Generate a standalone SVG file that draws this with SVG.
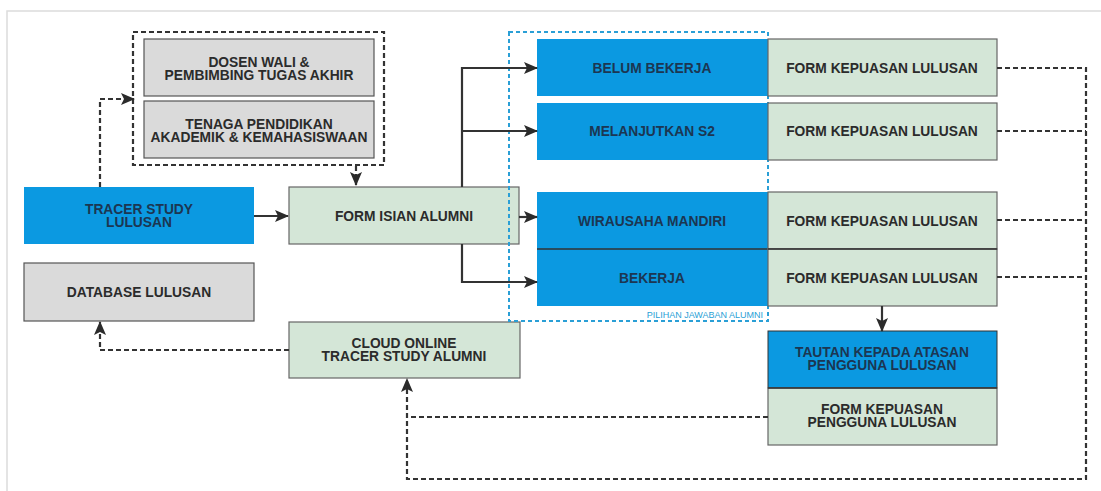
<svg xmlns="http://www.w3.org/2000/svg" width="1101" height="491" viewBox="0 0 1101 491">
  <style>
    .t { font-family: "Liberation Sans", Arial, sans-serif; font-weight: bold; font-size: 13.8px; text-anchor: middle; fill: #2b2b2b; }
    .tb { fill: #1c3652; }
    .gray { fill: #dadada; stroke: #555; stroke-width: 1.2; }
    .green { fill: #d4e6d7; stroke: #666; stroke-width: 1.2; }
    .blue { fill: #0b99e1; }
    .sep { stroke: #333; stroke-width: 1.5; }
    .solid { fill: none; stroke: #333; stroke-width: 2.2; }
    .dash { fill: none; stroke: #333; stroke-width: 2.2; stroke-dasharray: 5 3; }
  </style>
  <defs>
    <marker id="arrow" markerUnits="userSpaceOnUse" markerWidth="14" markerHeight="12" refX="13" refY="6" orient="auto">
      <path d="M0,0 L14,6 L0,12 L3,6 Z" fill="#2b2b2b"/>
    </marker>
  </defs>

  <!-- page frame -->
  <path d="M7,491 V11 H1101" fill="none" stroke="#dcdcdc" stroke-width="1.5"/>

  <!-- staff group (dashed container) -->
  <g id="staff-group">
    <rect x="133" y="32" width="251" height="133" class="dash"/>
  </g>
  <g id="dosen-wali">
    <rect x="144" y="39" width="230" height="57" class="gray"/>
    <text class="t" x="259" y="67">DOSEN WALI &amp;</text>
    <text class="t" x="259" y="80">PEMBIMBING TUGAS AKHIR</text>
  </g>
  <g id="tenaga-pendidikan">
    <rect x="144" y="101" width="230" height="57" class="gray"/>
    <text class="t" x="259" y="129">TENAGA PENDIDIKAN</text>
    <text class="t" x="259" y="142">AKADEMIK &amp; KEMAHASISWAAN</text>
  </g>

  <g id="tracer-study">
    <rect x="24" y="187" width="230" height="57" class="blue"/>
    <text class="t tb" x="139" y="214">TRACER STUDY</text>
    <text class="t tb" x="139" y="227">LULUSAN</text>
  </g>
  <g id="database-lulusan">
    <rect x="24" y="263" width="230" height="58" class="gray"/>
    <text class="t" x="139" y="297">DATABASE LULUSAN</text>
  </g>
  <g id="form-isian">
    <rect x="289" y="187" width="230" height="57" class="green"/>
    <text class="t" x="404" y="221">FORM ISIAN ALUMNI</text>
  </g>
  <g id="cloud-online">
    <rect x="289" y="322" width="231" height="56" class="green"/>
    <text class="t" x="404" y="348">CLOUD ONLINE</text>
    <text class="t" x="404" y="361">TRACER STUDY ALUMNI</text>
  </g>

  <!-- answer options (dashed blue container) -->
  <g id="pilihan-jawaban">
    <rect x="509" y="32" width="259" height="289" fill="none" stroke="#2a9fd6" stroke-width="2" stroke-dasharray="4 3"/>
    <text x="763" y="318" font-family="'Liberation Sans', Arial, sans-serif" font-size="9" fill="#2a9fd6" text-anchor="end">PILIHAN JAWABAN ALUMNI</text>
  </g>
  <g id="belum-bekerja">
    <rect x="537" y="39" width="231" height="57" class="blue"/>
    <text class="t tb" x="652" y="73">BELUM BEKERJA</text>
  </g>
  <g id="melanjutkan-s2">
    <rect x="537" y="103" width="231" height="57" class="blue"/>
    <text class="t tb" x="652" y="136">MELANJUTKAN S2</text>
  </g>
  <g id="wirausaha">
    <rect x="537" y="192" width="231" height="57" class="blue"/>
    <text class="t tb" x="652" y="226">WIRAUSAHA MANDIRI</text>
  </g>
  <g id="bekerja">
    <rect x="537" y="249" width="231" height="57" class="blue"/>
    <line x1="537" y1="249" x2="768" y2="249" class="sep"/>
    <text class="t tb" x="652" y="283">BEKERJA</text>
  </g>

  <g id="form-kepuasan-1">
    <rect x="768" y="39" width="229" height="57" class="green"/>
    <text class="t" x="882" y="73">FORM KEPUASAN LULUSAN</text>
  </g>
  <g id="form-kepuasan-2">
    <rect x="768" y="103" width="229" height="57" class="green"/>
    <text class="t" x="882" y="136">FORM KEPUASAN LULUSAN</text>
  </g>
  <g id="form-kepuasan-3">
    <rect x="768" y="192" width="229" height="57" class="green"/>
    <text class="t" x="882" y="226">FORM KEPUASAN LULUSAN</text>
  </g>
  <g id="form-kepuasan-4">
    <rect x="768" y="249" width="229" height="57" class="green"/>
    <line x1="768" y1="249" x2="997" y2="249" class="sep"/>
    <text class="t" x="882" y="283">FORM KEPUASAN LULUSAN</text>
  </g>

  <g id="tautan-atasan">
    <rect x="768" y="331" width="229" height="57" class="blue" stroke="#333" stroke-width="1"/>
    <text class="t tb" x="882" y="357">TAUTAN KEPADA ATASAN</text>
    <text class="t tb" x="882" y="370">PENGGUNA LULUSAN</text>
  </g>
  <g id="form-kepuasan-pengguna">
    <rect x="768" y="388" width="229" height="57" class="green"/>
    <line x1="768" y1="388" x2="997" y2="388" class="sep"/>
    <text class="t" x="882" y="414">FORM KEPUASAN</text>
    <text class="t" x="882" y="427">PENGGUNA LULUSAN</text>
  </g>

  <!-- connectors -->
  <g id="connectors">
    <path d="M100,187 V99 H134" class="dash" marker-end="url(#arrow)"/>
    <path d="M356,166 V185" class="dash" marker-end="url(#arrow)"/>
    <path d="M254,216 H288" class="solid" marker-end="url(#arrow)"/>
    <path d="M462,187 V68 H537" class="solid" marker-end="url(#arrow)"/>
    <path d="M462,131 H537" class="solid" marker-end="url(#arrow)"/>
    <path d="M519,217 H537" class="solid" marker-end="url(#arrow)"/>
    <path d="M462,244 V282 H537" class="solid" marker-end="url(#arrow)"/>
    <path d="M882,306 V331" class="solid" marker-end="url(#arrow)"/>
    <path d="M289,350 H100 V322" class="dash" marker-end="url(#arrow)"/>
    <path d="M997,68 H1086 V479 H407 V379" class="dash" marker-end="url(#arrow)"/>
    <path d="M997,131 H1086" class="dash"/>
    <path d="M997,220 H1086" class="dash"/>
    <path d="M997,277 H1086" class="dash"/>
    <path d="M768,417 H407" class="dash"/>
  </g>
</svg>
